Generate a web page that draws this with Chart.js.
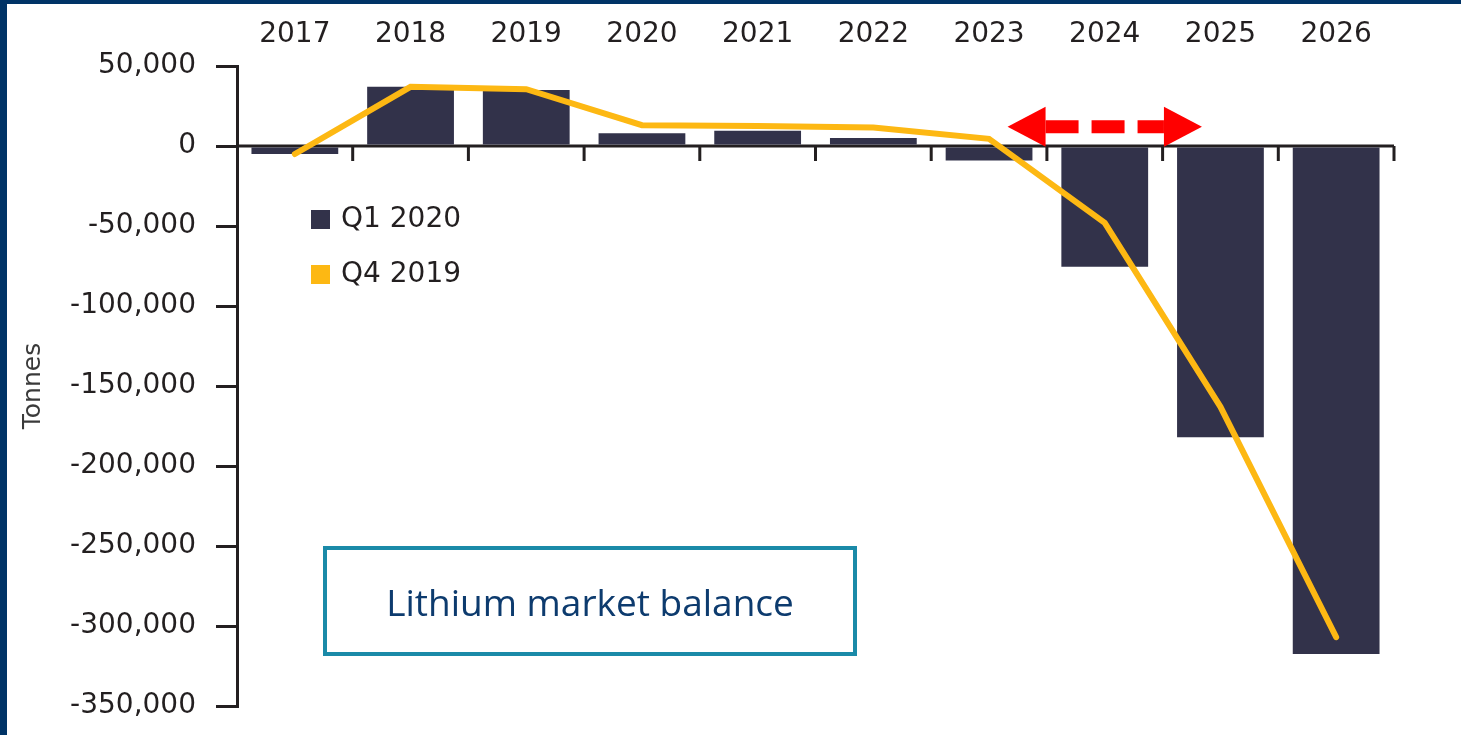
<!DOCTYPE html>
<html>
<head>
<meta charset="utf-8">
<title>Lithium market balance</title>
<script src="https://cdn.jsdelivr.net/npm/chart.js@4.4.1/dist/chart.umd.min.js"></script>
<style>
    html, body {
        margin: 0;
        padding: 0;
        background: #ffffff;
        width: 1461px;
        height: 735px;
        overflow: hidden;
    }
    .frame {
        position: absolute;
        left: 0;
        top: 0;
        width: 1454px;
        height: 731px;
        border-top: 4px solid #003366;
        border-left: 7px solid #003366;
    }
    .frame canvas {
        display: block;
    }
    .title-box {
        position: absolute;
        left: 323px;
        top: 546px;
        width: 526px;
        height: 102px;
        border: 4px solid #1a8aa8;
        display: flex;
        align-items: center;
        justify-content: center;
        font-family: "Open Sans", sans-serif;
        font-size: 37px;
        color: #0d3b6e;
    }
</style>
</head>
<body>
<div class="frame">
    <canvas id="balanceChart" width="1454" height="731"></canvas>
</div>
<div class="title-box">Lithium market balance</div>

<script>
// Chart data
const years = ['2017', '2018', '2019', '2020', '2021', '2022', '2023', '2024', '2025', '2026'];
const q1_2020 = [-5000, 37000, 35000, 8000, 9500, 5000, -9000, -75500, -182000, -317500];
const q4_2019 = [-5000, 37000, 35500, 13000, 12500, 11500, 4500, -48000, -163000, -307000];
const yTicks = [50000, 0, -50000, -100000, -150000, -200000, -250000, -300000, -350000];

const axisColor = '#231f20';
const barColor = '#32324a';
const lineColor = '#fdb813';
const tickFont = { family: 'DejaVu Sans', size: 28 };

// Horizontal axis at zero with tick marks between the categories
const zeroAxis = {
    id: 'zeroAxis',
    beforeDatasetsDraw(chart) {
        const { ctx, scales: { x, y } } = chart;
        const y0 = y.getPixelForValue(0);
        const half = (x.getPixelForValue(1) - x.getPixelForValue(0)) / 2;
        ctx.save();
        ctx.strokeStyle = axisColor;
        ctx.lineWidth = 3;
        ctx.beginPath();
        ctx.moveTo(chart.chartArea.left, y0);
        ctx.lineTo(chart.chartArea.right, y0);
        for (let i = 0; i < years.length; i++) {
            const bx = x.getPixelForValue(i) + half;
            ctx.moveTo(bx, y0);
            ctx.lineTo(bx, y0 + 15);
        }
        ctx.stroke();
        ctx.restore();
    }
};

// Legend inside the plot, plus the red dashed arrow over 2024
const extras = {
    id: 'extras',
    afterDraw(chart) {
        const { ctx, scales: { x, y } } = chart;
        ctx.save();

        // legend
        const items = [chart.data.datasets[1], chart.data.datasets[0]];
        ctx.font = '28px "DejaVu Sans"';
        ctx.textBaseline = 'middle';
        items.forEach((ds, i) => {
            const cy = 215 + i * 55;
            ctx.fillStyle = ds.legendColor;
            ctx.fillRect(304, cy - 9, 19, 19);
            ctx.fillStyle = axisColor;
            ctx.fillText(ds.label, 334, cy + 1);
        });

        // arrow
        const cat = x.getPixelForValue(1) - x.getPixelForValue(0);
        const xl = x.getPixelForValue(6) + cat * 0.16;
        const xr = x.getPixelForValue(8) - cat * 0.16;
        const ay = y.getPixelForValue(12000);
        const head = 38;
        ctx.fillStyle = '#ff0000';
        ctx.strokeStyle = '#ff0000';
        ctx.beginPath();
        ctx.moveTo(xl, ay);
        ctx.lineTo(xl + head, ay - 20);
        ctx.lineTo(xl + head, ay + 20);
        ctx.closePath();
        ctx.fill();
        ctx.beginPath();
        ctx.moveTo(xr, ay);
        ctx.lineTo(xr - head, ay - 20);
        ctx.lineTo(xr - head, ay + 20);
        ctx.closePath();
        ctx.fill();
        ctx.lineWidth = 13;
        ctx.setLineDash([33, 13]);
        ctx.beginPath();
        ctx.moveTo(xl + head, ay);
        ctx.lineTo(xr - head, ay);
        ctx.stroke();

        ctx.restore();
    }
};

const ctx = document.getElementById('balanceChart').getContext('2d');
new Chart(ctx, {
    data: {
        labels: years,
        datasets: [
            {
                type: 'line',
                label: 'Q4 2019',
                data: q4_2019,
                borderColor: lineColor,
                legendColor: lineColor,
                borderWidth: 6,
                borderCapStyle: 'round',
                tension: 0,
                pointRadius: 0,
                order: 1
            },
            {
                type: 'bar',
                label: 'Q1 2020',
                data: q1_2020,
                backgroundColor: barColor,
                legendColor: barColor,
                categoryPercentage: 1,
                barPercentage: 0.75,
                order: 2
            }
        ]
    },
    options: {
        responsive: false,
        animation: false,
        locale: 'en-US',
        layout: {
            padding: { left: 0, top: 0, right: 67, bottom: 29 }
        },
        plugins: {
            legend: { display: false },
            tooltip: { enabled: false }
        },
        scales: {
            x: {
                type: 'category',
                position: 'top',
                offset: true,
                grid: { display: false },
                border: { display: false },
                ticks: {
                    color: axisColor,
                    font: tickFont,
                    padding: 6,
                    maxRotation: 0
                },
                afterFit(scale) {
                    scale.height = 62;
                    scale.paddingLeft = 0;
                    scale.paddingRight = 0;
                }
            },
            y: {
                min: -350000,
                max: 50000,
                afterBuildTicks(scale) {
                    scale.ticks = yTicks.map(v => ({ value: v }));
                },
                grid: {
                    drawOnChartArea: false,
                    drawTicks: true,
                    tickLength: 21,
                    color: axisColor,
                    lineWidth: 3
                },
                border: {
                    display: true,
                    color: axisColor,
                    width: 3
                },
                ticks: {
                    color: axisColor,
                    font: tickFont,
                    padding: 20,
                    callback: v => v.toLocaleString('en-US')
                },
                title: {
                    display: true,
                    text: 'Tonnes',
                    color: '#3a3a3a',
                    font: { family: 'DejaVu Sans', size: 25 },
                    padding: { top: 11, bottom: 0 }
                },
                afterFit(scale) {
                    scale.width = 230;
                    scale.paddingTop = 0;
                    scale.paddingBottom = 0;
                }
            }
        }
    },
    plugins: [zeroAxis, extras]
});
</script>
</body>
</html>
